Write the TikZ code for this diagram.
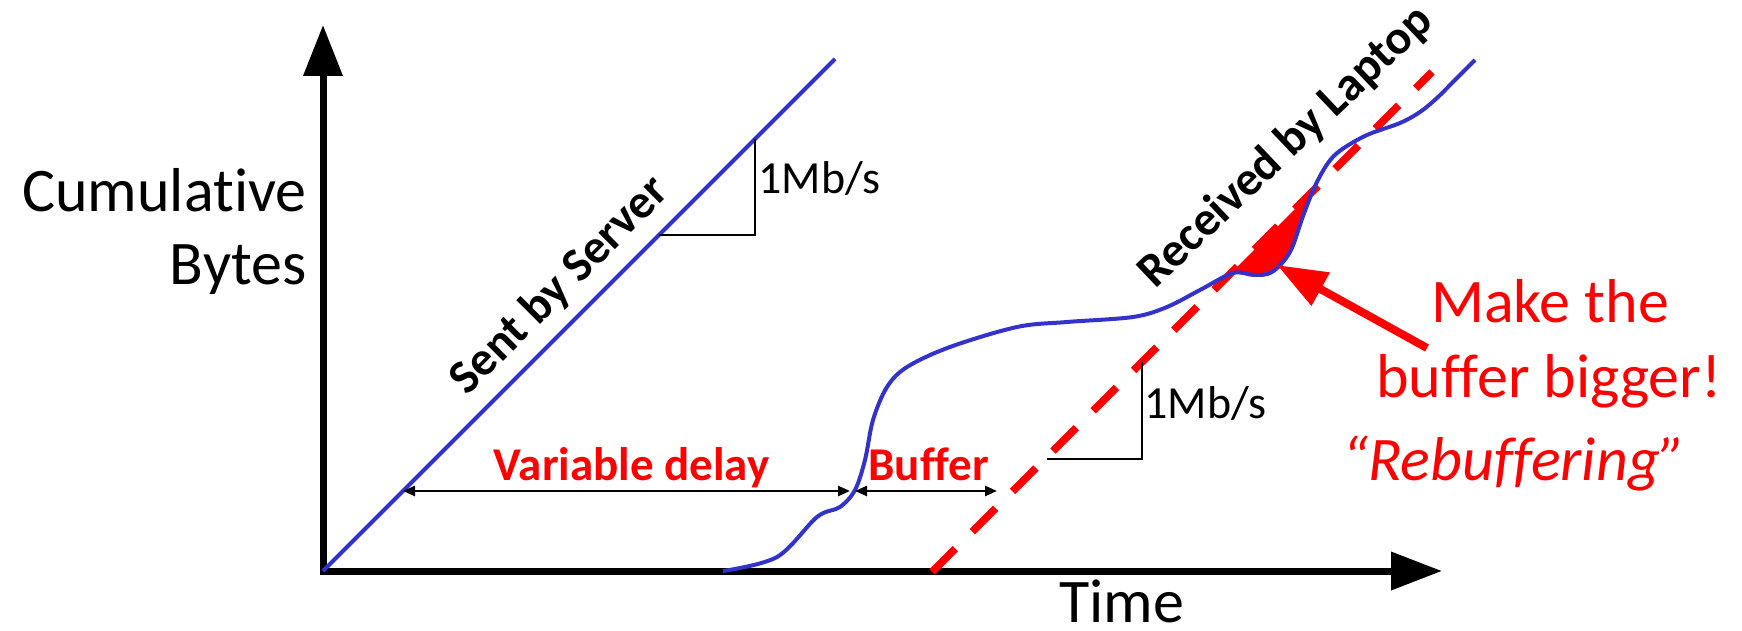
\documentclass[tikz,border=0pt]{standalone}
\usepackage{fontspec}
\setmainfont{Carlito}[Ligatures=NoCommon]
\usetikzlibrary{arrows.meta}
\definecolor{curveblue}{RGB}{51,51,204}
\definecolor{alertred}{RGB}{255,0,0}

% received-bytes curve, reused for the line and for the rebuffering patch
\newcommand\rcvcurve{plot[smooth,tension=0.55] coordinates {(723,571) (777,557) (817,517) (840,507) (855,490) (865,460) (873,420) (887,387) (907,367) (950,347) (1017,327) (1067,322) (1133,317) (1167,307) (1200,290) (1233,273) (1254,275) (1272,272) (1290,252) (1303,216) (1315,186) (1328,163) (1341,150) (1367,135) (1400,123) (1420,112) (1437,98) (1453,82) (1475,60)}}

\begin{document}
\begin{tikzpicture}[x=0.5pt,y=-0.5pt,
  axisline/.style={line width=3.5pt, line join=miter,
    {Triangle[length=25.5pt,width=19pt]}-{Triangle[length=25.5pt,width=18.5pt]}},
  sentline/.style={curveblue, line width=2pt},
  rcvline/.style={curveblue, line width=2pt},
  rateline/.style={alertred, line width=3.75pt, dash pattern=on 16.5pt off 12pt},
  slopebox/.style={line width=1.4pt, line join=miter},
  gapdim/.style={line width=1.2pt,
    {Triangle[length=6pt,width=5pt]}-{Triangle[length=6pt,width=5pt]}},
  hintarrow/.style={alertred, line width=4pt, -{Triangle[length=25pt,width=18pt]}},
  axislbl/.style={inner sep=0pt, font=\fontsize{31pt}{37pt}\selectfont},
  ratelbl/.style={inner sep=0pt, font=\fontsize{23pt}{28pt}\selectfont},
  gaplbl/.style={inner sep=0pt, text=alertred, font=\fontsize{23.5pt}{28pt}\selectfont\bfseries},
  curvelbl/.style={inner sep=0pt, font=\fontsize{24pt}{29pt}\selectfont\bfseries},
  hintlbl/.style={inner sep=0pt, text=alertred, font=\fontsize{31pt}{37pt}\selectfont}]

\useasboundingbox (0,0) rectangle (1742,631);

% key points
\coordinate (O) at (323,571);
\coordinate (ytip) at (323,25);
\coordinate (xtip) at (1442,571);
\coordinate (sentEnd) at (835,59);
\coordinate (rb) at (932,572);
\coordinate (rt) at (1432,72);

% rebuffering patch: where the received curve falls below the playback line
\begin{scope}
  \clip (1225,279) -- (1325,179) -- (1325,420) -- (1225,420) -- cycle;
  \fill[alertred] \rcvcurve -- (1475,0) -- (723,0) -- cycle;
\end{scope}

% axes
\draw[axisline] (ytip) -- (O) -- (xtip);

% sent by server
\draw[sentline] (O) -- (sentEnd);

% slope marker on the server line
\coordinate (s1a) at (659,235);
\coordinate (s1b) at (755,235);
\coordinate (s1c) at (755,139);
\draw[slopebox] (s1a) -- (s1b) -- (s1c);

% playback line
\draw[rateline] (rb) -- (rt);

% slope marker on the playback line
\coordinate (s2a) at (1047,459);
\coordinate (s2b) at (1142,459);
\coordinate (s2c) at (1142,362);
\draw[slopebox] (s2a) -- (s2b) -- (s2c);

% received by laptop
\draw[rcvline] \rcvcurve;

% delay and buffer spans
\coordinate (dlyL) at (403,491);
\coordinate (dlyR) at (850,491);
\coordinate (bufL) at (855,491);
\coordinate (bufR) at (997,491);
\draw[gapdim] (dlyL) -- (dlyR);
\draw[gapdim] (bufL) -- (bufR);

% labels
\node[axislbl, anchor=base east] (cumA) at (307,212) {Cumulative};
\node[axislbl, anchor=base east] (cumB) at (307,285) {Bytes};
\node[axislbl, anchor=base] (timeLbl) at (1122,622) {Time};
\node[ratelbl, anchor=base west] (rate1) at (758,193) {1Mb/s};
\node[ratelbl, anchor=base west] (rate2) at (1144,418) {1Mb/s};
\node[gaplbl, anchor=base east] (delayLbl) at (770,480) {Variable delay};
\node[gaplbl, anchor=base west] (bufLbl) at (868,480) {Buffer};
\node[curvelbl, rotate=45] (sentLbl) at (560,286) {Sent by Server};
\node[curvelbl, rotate=43.5] (rcvLbl) at (1286,147) {Received by Laptop};
\node[hintlbl, anchor=base] (hintA) at (1550,322) {Make the};
\node[hintlbl, anchor=base] (hintB) at (1549,397) {buffer bigger!};
\node[hintlbl, anchor=base] (rebufLbl) at (1514,480) {\itshape “Rebuffering”};

% pointer to the rebuffering patch
\coordinate (hintTail) at (1427,348);
\coordinate (hintTip) at (1277,265);
\draw[hintarrow] (hintTail) -- (hintTip);

\end{tikzpicture}
\end{document}
